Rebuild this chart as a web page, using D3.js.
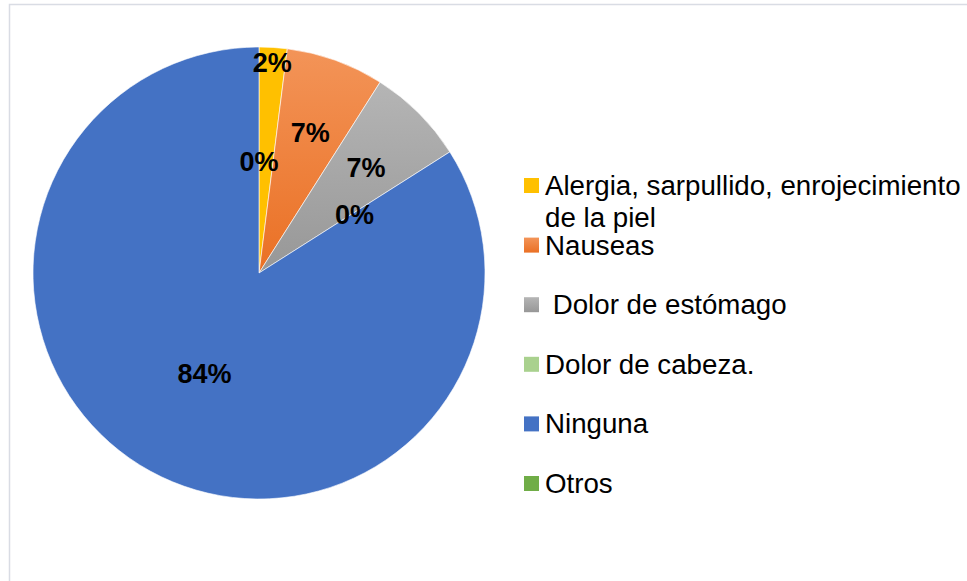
<!DOCTYPE html>
<html>
  <head>
    <meta charset="utf-8">
    <title>Efectos</title>
    <script src="https://cdnjs.cloudflare.com/ajax/libs/d3/7.8.5/d3.min.js"></script>
    <style>
      body { margin: 0; background: #fff; }
      svg { font-family: Arial, "Liberation Sans", sans-serif; }
      .frame { fill: none; stroke: #d9dce4; stroke-width: 1.5; }
      .pct { font-weight: bold; font-size: 27px; fill: #000; }
      .legend text { font-size: 27.7px; fill: #000; }
    </style>
  </head>
  <body>
    <script>
    // data
    var categories = ['Alergia, sarpullido, enrojecimiento de la piel', 'Nauseas',
      ' Dolor de estómago', 'Dolor de cabeza.', 'Ninguna', 'Otros'];
    var percents = [2, 7, 7, 0, 84, 0];
    var legendLines = [['Alergia, sarpullido, enrojecimiento', 'de la piel'], ['Nauseas'],
      ['\u00a0Dolor de estómago'], ['Dolor de cabeza.'], ['Ninguna'], ['Otros']];

    var colors = ['#ffc000', '#ed7d31', '#a5a5a5', '#a9d18e', '#4472c4', '#70ad47'];
    // top/bottom shades for the slices that have a gradient
    var shades = {1: ['#f39458', '#ea7024'], 2: ['#b5b5b5', '#979797']};

    var width = 967, height = 581;
    var cx = 259, cy = 273, radius = 226;

    var svg = d3.select('body').append('svg')
        .attr('width', width)
        .attr('height', height);

    var defs = svg.append('defs');
    Object.keys(shades).forEach(function(k) {
      var g = defs.append('linearGradient')
          .attr('id', 'grad' + k)
          .attr('x1', 0).attr('y1', 0).attr('x2', 0).attr('y2', 1);
      g.append('stop').attr('offset', '0%').attr('stop-color', shades[k][0]);
      g.append('stop').attr('offset', '100%').attr('stop-color', shades[k][1]);
    });

    function fillFor(i) {
      return shades[i] ? 'url(#grad' + i + ')' : colors[i];
    }

    // chart frame
    svg.append('rect')
        .attr('class', 'frame')
        .attr('x', 9.5)
        .attr('y', 4.5)
        .attr('width', 990)
        .attr('height', 600);

    var pie = d3.pie().sort(null).value(function(d) { return d; });
    var arcs = pie(percents);

    var arc = d3.arc().innerRadius(0).outerRadius(radius);

    var g = svg.append('g')
        .attr('transform', 'translate(' + cx + ',' + cy + ')');

    g.selectAll('path')
      .data(arcs)
      .enter()
      .append('path')
        .attr('d', arc)
        .attr('fill', function(d, i) { return fillFor(i); })
        .attr('stroke', function(d) { return d.value > 0 ? '#fff' : 'none'; })
        .attr('stroke-width', 0.6);

    // labels: small slices pushed outward, like the original
    function labelRadius(v) {
      if (v > 0 && v < 4) return radius * 0.94;
      if (v >= 4 && v < 30) return radius * 0.67;
      return radius * 0.5;
    }

    g.selectAll('.pct')
      .data(arcs)
      .enter()
      .append('text')
        .attr('class', 'pct')
        .attr('transform', function(d) {
          var a = (d.startAngle + d.endAngle) / 2;
          var r = labelRadius(d.value);
          return 'translate(' + (Math.sin(a) * r) + ',' + (-Math.cos(a) * r) + ')';
        })
        .attr('text-anchor', 'middle')
        .attr('dy', '0.42em')
        .text(function(d) { return d3.format('.0f')(d.value) + '%'; });

    // legend
    var legend = svg.append('g')
        .attr('class', 'legend')
        .attr('transform', 'translate(524,195)');

    var item = legend.selectAll('g')
      .data(categories)
      .enter()
      .append('g')
        .attr('transform', function(d, i) { return 'translate(0,' + (i * 59.6) + ')'; });

    item.append('rect')
        .attr('x', 0)
        .attr('y', -17)
        .attr('width', 15)
        .attr('height', 15)
        .attr('fill', function(d, i) { return fillFor(i); });

    item.append('text')
        .attr('x', 21)
        .selectAll('tspan')
        .data(function(d, i) { return legendLines[i]; })
        .enter()
        .append('tspan')
          .attr('x', 21)
          .attr('y', function(d, j) { return j * 32; })
          .text(function(d) { return d; });
    </script>
  </body>
</html>
